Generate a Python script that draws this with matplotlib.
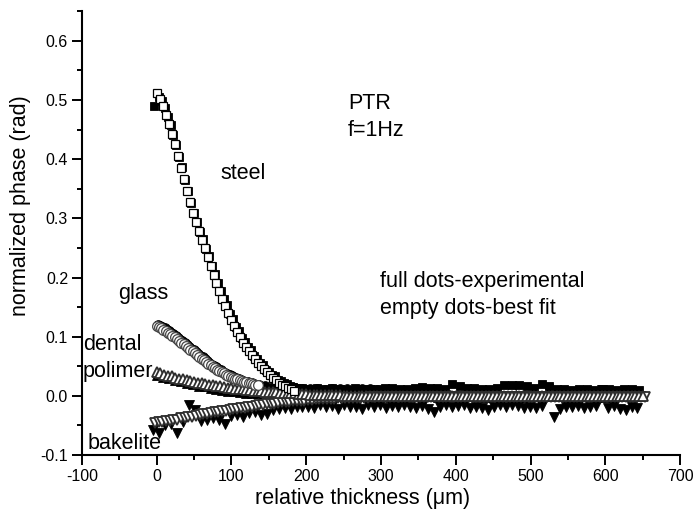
import numpy as np
import matplotlib
matplotlib.use("Agg")
import matplotlib.pyplot as plt
from matplotlib.ticker import MultipleLocator

plt.rcParams['font.family'] = ['Liberation Sans', 'DejaVu Sans']
plt.rcParams['axes.unicode_minus'] = False

# ---------------- data (relative thickness in um, normalized phase in rad) ----------------
# steel: best fit (empty squares)
steel_fit_x = np.arange(0, 185, 4)
steel_fit_y = [0.512, 0.502, 0.489, 0.475, 0.459, 0.443, 0.426, 0.405, 0.385, 0.366,
               0.346, 0.327, 0.309, 0.293, 0.278, 0.264, 0.250, 0.235, 0.220, 0.205,
               0.191, 0.177, 0.164, 0.152, 0.140, 0.129, 0.118, 0.108, 0.099, 0.090,
               0.083, 0.076, 0.069, 0.062, 0.056, 0.051, 0.045, 0.040, 0.035, 0.031,
               0.026, 0.022, 0.019, 0.016, 0.013, 0.011, 0.009]

# steel: experimental (full squares)
steel_exp_x = np.concatenate([[-3], np.arange(2.5, 188, 4), np.arange(195, 650, 10)])
steel_exp_y = [0.490,
               0.505, 0.498, 0.486, 0.471, 0.457, 0.440, 0.424, 0.404, 0.386, 0.364,
               0.347, 0.326, 0.309, 0.294, 0.277, 0.265, 0.249, 0.236, 0.219, 0.206,
               0.190, 0.178, 0.163, 0.153, 0.139, 0.130, 0.117, 0.109, 0.098, 0.091,
               0.082, 0.077, 0.068, 0.063, 0.055, 0.052, 0.044, 0.041, 0.035, 0.033,
               0.027, 0.025, 0.021, 0.020, 0.016, 0.015, 0.013,
               0.013, 0.012, 0.014, 0.011, 0.013, 0.012, 0.010, 0.013, 0.012, 0.011,
               0.012, 0.014, 0.013, 0.012, 0.011, 0.013, 0.015, 0.014, 0.013, 0.012,
               0.020, 0.016, 0.014, 0.013, 0.012, 0.011, 0.013, 0.018, 0.019, 0.018,
               0.017, 0.014, 0.020, 0.016, 0.012, 0.011, 0.010, 0.012, 0.011, 0.010,
               0.011, 0.012, 0.010, 0.011, 0.012, 0.010]

# glass: best fit (empty circles)
glass_fit_x = np.arange(0, 136, 3)
glass_fit_y = [0.118, 0.116, 0.114, 0.112, 0.110, 0.107, 0.105, 0.102, 0.099, 0.096,
               0.093, 0.090, 0.087, 0.084, 0.081, 0.078, 0.075, 0.072, 0.069, 0.066,
               0.063, 0.060, 0.057, 0.054, 0.052, 0.049, 0.047, 0.044, 0.042, 0.040,
               0.038, 0.036, 0.034, 0.032, 0.031, 0.029, 0.028, 0.026, 0.025, 0.024,
               0.023, 0.022, 0.021, 0.020, 0.019, 0.018]

# glass: experimental (full circles)
glass_exp_x = np.concatenate([np.arange(1.5, 137, 3), np.arange(145, 300, 10)])
glass_exp_y = [0.119, 0.118, 0.116, 0.114, 0.112, 0.109, 0.107, 0.104, 0.101, 0.098,
               0.095, 0.092, 0.089, 0.086, 0.083, 0.080, 0.077, 0.074, 0.071, 0.068,
               0.065, 0.062, 0.059, 0.056, 0.053, 0.051, 0.048, 0.046, 0.043, 0.041,
               0.039, 0.037, 0.035, 0.033, 0.031, 0.030, 0.028, 0.027, 0.025, 0.024,
               0.023, 0.022, 0.021, 0.020, 0.019, 0.018,
               0.016, 0.015, 0.014, 0.013, 0.013, 0.012, 0.011, 0.012, 0.010, 0.011,
               0.012, 0.011, 0.010, 0.012, 0.011, 0.010]

# dental polimer: best fit (empty up triangles)
dental_fit_x = np.arange(0, 651, 5)
dental_fit_y = [0.040, 0.038, 0.036, 0.034, 0.033, 0.031, 0.029, 0.028, 0.026, 0.025, 0.024,
                0.022, 0.021, 0.020, 0.019, 0.018, 0.017, 0.016, 0.015, 0.014, 0.013,
                0.012, 0.012, 0.011, 0.010, 0.010, 0.009, 0.008, 0.008, 0.007, 0.007,
                0.006, 0.006, 0.005, 0.005, 0.005, 0.004, 0.004, 0.003, 0.003, 0.003,
                0.002, 0.002, 0.002, 0.002, 0.001, 0.001, 0.001, 0.001, 0.001, 0.000,
                0.000, 0.000, 0.000, 0.000, 0.000, 0.000, 0.000, 0.000, 0.000, 0.000,
                0.000, 0.000, 0.000, 0.000, 0.000, 0.000, 0.000, 0.000, 0.000, 0.000,
                0.000, 0.000, 0.000, 0.000, 0.000, 0.000, 0.000, 0.000, 0.000, 0.000,
                0.000, 0.000, 0.000, 0.000, 0.000, 0.000, 0.000, 0.000, 0.000, 0.000,
                0.000, 0.000, 0.000, 0.000, 0.000, 0.000, 0.000, 0.000, 0.000, 0.000,
                0.000, 0.000, 0.000, 0.000, 0.000, 0.000, 0.000, 0.000, 0.000, 0.000,
                0.000, 0.000, 0.000, 0.000, 0.000, 0.000, 0.000, 0.000, 0.000, 0.000,
                0.000, 0.000, 0.000, 0.000, 0.000, 0.000, 0.000, 0.000, 0.000, 0.000]

# dental polimer: experimental (full up triangles)
dental_exp_x = np.arange(0, 645, 8)
dental_exp_y = [0.036, 0.032, 0.030, 0.027, 0.025, 0.022, 0.020, 0.017, 0.016, 0.013,
                0.012, 0.010, 0.009, 0.008, 0.006, 0.005, 0.004, 0.004, 0.003, 0.002,
                0.002, 0.001, 0.001, 0.000, 0.000, -0.001,
                -0.001, 0.001, -0.002, 0.000, 0.002, -0.001, 0.000, -0.002, 0.001, 0.000,
                -0.001, 0.002, 0.000, -0.002, 0.001, -0.001, 0.000, 0.002, -0.001, 0.000,
                0.001, -0.002, 0.000, 0.001, -0.001, 0.002, 0.000, -0.001, 0.001, -0.002,
                0.000, 0.001, -0.001, 0.000, 0.002, -0.002, 0.000, 0.001, -0.001, 0.000,
                0.002, -0.001, 0.000, -0.002, 0.001, 0.000, -0.001, 0.001, 0.000, -0.002,
                0.001, 0.000, -0.001, 0.000, 0.001]

# bakelite: best fit (empty down triangles), sampled half a step after the dental fit
bakelite_fit_x = np.arange(-2.5, 653, 5)
bakelite_fit_y = [-0.046,
                  -0.045, -0.044, -0.043, -0.042, -0.041, -0.040, -0.038, -0.037, -0.036, -0.035, -0.034,
                  -0.033, -0.031, -0.030, -0.029, -0.028, -0.027, -0.026, -0.025, -0.024, -0.023,
                  -0.022, -0.021, -0.020, -0.019, -0.018, -0.017, -0.016, -0.015, -0.014, -0.014,
                  -0.013, -0.012, -0.011, -0.011, -0.010, -0.009, -0.009, -0.008, -0.008, -0.007,
                  -0.007, -0.006, -0.006, -0.006, -0.005, -0.005, -0.005, -0.004, -0.004, -0.004,
                  -0.004, -0.003, -0.003, -0.003, -0.003, -0.003, -0.002, -0.002, -0.002, -0.002,
                  -0.002, -0.002, -0.002, -0.002, -0.002, -0.002, -0.002, -0.002, -0.002, -0.002,
                  -0.002, -0.002, -0.002, -0.002, -0.002, -0.002, -0.002, -0.002, -0.002, -0.002,
                  -0.002, -0.002, -0.002, -0.002, -0.002, -0.002, -0.002, -0.002, -0.002, -0.002,
                  -0.002, -0.002, -0.002, -0.002, -0.002, -0.002, -0.002, -0.002, -0.002, -0.002,
                  -0.002, -0.002, -0.002, -0.002, -0.002, -0.002, -0.002, -0.002, -0.002, -0.002,
                  -0.002, -0.002, -0.002, -0.002, -0.002, -0.002, -0.002, -0.002, -0.002, -0.002,
                  -0.002, -0.002, -0.002, -0.002, -0.002, -0.002, -0.002, -0.002, -0.002, -0.002]

# bakelite: experimental (full down triangles)
bakelite_exp_x = np.arange(-5, 650, 8)
bakelite_exp_y = [-0.058, -0.062, -0.050, -0.047, -0.063, -0.044, -0.016, -0.024, -0.043, -0.040,
                  -0.038, -0.041, -0.047, -0.034, -0.032, -0.036, -0.029, -0.027, -0.033, -0.031,
                  -0.024, -0.023, -0.021, -0.022, -0.019, -0.018,
                  -0.018, -0.021, -0.016, -0.019, -0.017, -0.022, -0.016, -0.019, -0.018, -0.023,
                  -0.016, -0.019, -0.015, -0.021, -0.017, -0.019, -0.016, -0.018, -0.021, -0.017,
                  -0.022, -0.027, -0.019, -0.016, -0.019, -0.017, -0.016, -0.020, -0.018, -0.021,
                  -0.024, -0.018, -0.016, -0.018, -0.015, -0.017, -0.020, -0.018, -0.021, -0.017,
                  0.012, -0.036, -0.023, -0.019, -0.018, -0.017, -0.020, -0.019, -0.017, 0.010,
                  -0.020, -0.017, -0.022, -0.024, -0.018, -0.021]

# annotations: (text, x, y)
labels = [("steel", 85, 0.375), ("glass", -52, 0.173), ("dental", -99, 0.087),
          ("polimer", -99, 0.041), ("bakelite", -92, -0.080),
          ("PTR", 256, 0.494), ("f=1Hz", 256, 0.448),
          ("full dots-experimental", 299, 0.194), ("empty dots-best fit", 299, 0.148)]

# ---------------- figure ----------------
fig = plt.figure(figsize=(6.94, 5.09), dpi=100)
ax = fig.add_axes([0.118, 0.106, 0.862, 0.872])

blk = dict(linestyle='none', color='black', markeredgecolor='black', zorder=2)
ax.plot(steel_exp_x, steel_exp_y, marker='s', markersize=6.3, markeredgewidth=0.6, **blk)
ax.plot(glass_exp_x, glass_exp_y, marker='o', markersize=7.0, markeredgewidth=0.6, **blk)
ax.plot(dental_exp_x, dental_exp_y, marker='^', markersize=7.5, markeredgewidth=0.6, **blk)
ax.plot(bakelite_exp_x, bakelite_exp_y, marker='v', markersize=7.5, markeredgewidth=0.6, **blk)

ax.plot(bakelite_fit_x, bakelite_fit_y, linestyle='none', marker='v', markersize=7.5,
        markerfacecolor='white', markeredgecolor='#2e2e2e', markeredgewidth=1.3, zorder=3)
ax.plot(dental_fit_x, dental_fit_y, linestyle='none', marker='^', markersize=7.5,
        markerfacecolor='white', markeredgecolor='#2e2e2e', markeredgewidth=1.3, zorder=3)
ax.plot(glass_fit_x, glass_fit_y, linestyle='none', marker='o', markersize=7.0,
        markerfacecolor='white', markeredgecolor='#444444', markeredgewidth=0.9, zorder=4)
ax.plot(steel_fit_x, steel_fit_y, linestyle='none', marker='s', markersize=6.3,
        markerfacecolor='white', markeredgecolor='black', markeredgewidth=0.9, zorder=5)

for txt, x, y in labels:
    ax.text(x, y, txt, fontsize=15.5, ha='left', va='center', color='black', zorder=6)

ax.set_xlim(-100, 700)
ax.set_ylim(-0.1, 0.65)
ax.xaxis.set_major_locator(MultipleLocator(100))
ax.xaxis.set_minor_locator(MultipleLocator(50))
ax.yaxis.set_minor_locator(MultipleLocator(0.05))
ax.set_yticks(np.arange(-0.1, 0.61, 0.1))
ax.set_yticklabels(['-0.1', '0.0', '0.1', '0.2', '0.3', '0.4', '0.5', '0.6'])

for side in ('top', 'right'):
    ax.spines[side].set_visible(False)
for side in ('left', 'bottom'):
    ax.spines[side].set_linewidth(1.5)
ax.tick_params(which='major', direction='out', length=7, width=1.4, labelsize=11.5, pad=3)
ax.tick_params(which='minor', direction='out', length=3.6, width=1.4)

ax.set_xlabel('relative thickness (\u03bcm)', fontsize=15.5)
ax.set_ylabel('normalized phase (rad)', fontsize=15.5)
ax.xaxis.set_label_coords(0.469, -0.075)
ax.yaxis.set_label_coords(-0.085, 0.563)

fig.savefig('out.png', dpi=100)
